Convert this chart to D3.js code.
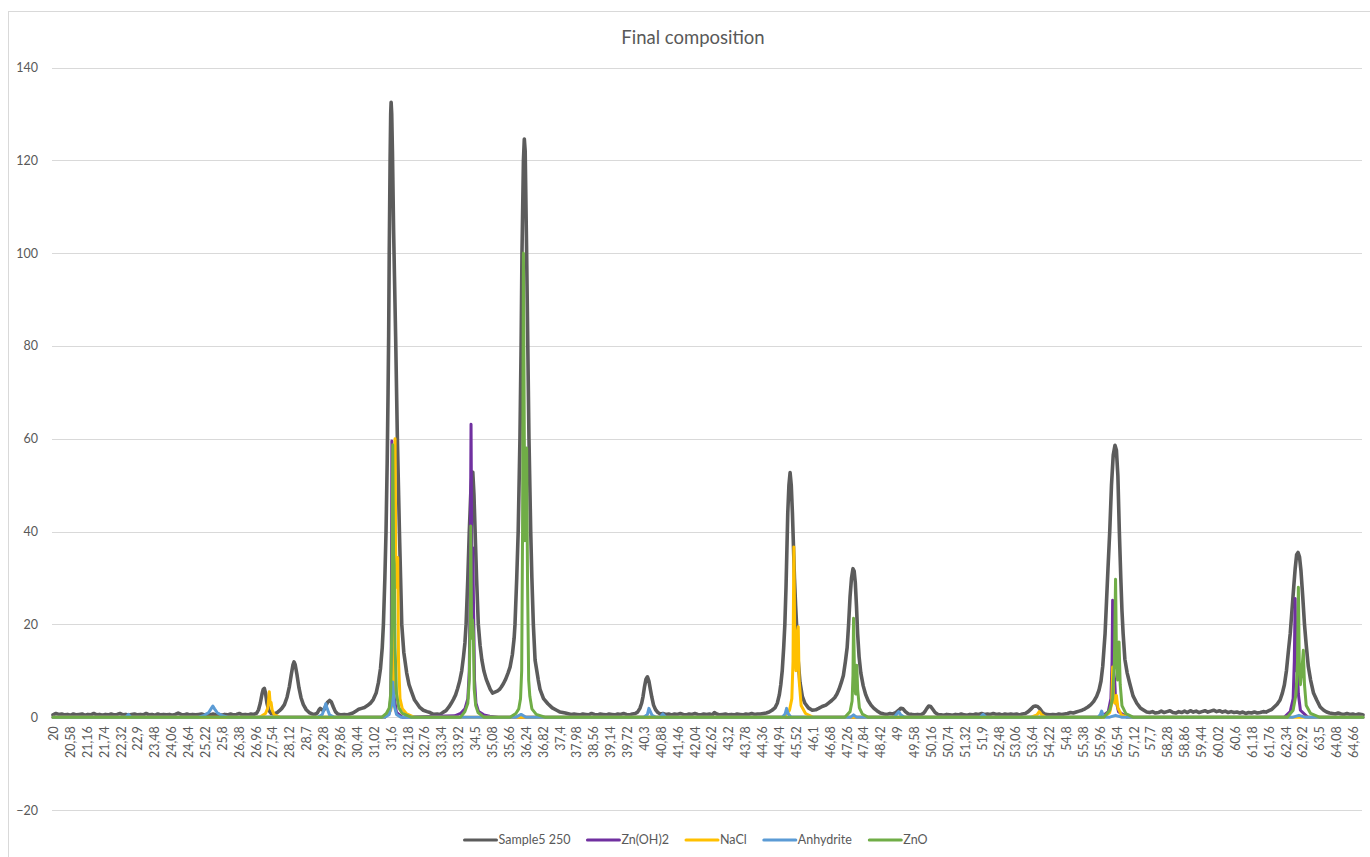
<!DOCTYPE html>
<html>
<head>
<meta charset="utf-8">
<script src="https://cdn.jsdelivr.net/npm/d3@7/dist/d3.min.js"></script>
<style>
  html, body { margin: 0; padding: 0; background: #ffffff; }
  svg { display: block; }
  text { font-family: Lato, "Open Sans", sans-serif; fill: #595959; }
</style>
</head>
<body>
<svg id="chart" width="1370" height="857"></svg>
<script>
// ---- chart content ----
const chartTitle = "Final composition";
const seriesNames = ["Sample5 250", "Zn(OH)2", "NaCl", "Anhydrite", "ZnO"];
const seriesColors = ["#5c5c5c", "#7030a0", "#ffc000", "#5b9bd5", "#70ad47"];
const yTickValues = [-20, 0, 20, 40, 60, 80, 100, 120, 140];
const xTickLabels = [
  "20", "20,58", "21,16", "21,74", "22,32", "22,9", "23,48", "24,06", "24,64", "25,22",
  "25,8", "26,38", "26,96", "27,54", "28,12", "28,7", "29,28", "29,86", "30,44", "31,02",
  "31,6", "32,18", "32,76", "33,34", "33,92", "34,5", "35,08", "35,66", "36,24", "36,82",
  "37,4", "37,98", "38,56", "39,14", "39,72", "40,3", "40,88", "41,46", "42,04", "42,62",
  "43,2", "43,78", "44,36", "44,94", "45,52", "46,1", "46,68", "47,26", "47,84", "48,42",
  "49", "49,58", "50,16", "50,74", "51,32", "51,9", "52,48", "53,06", "53,64", "54,22",
  "54,8", "55,38", "55,96", "56,54", "57,12", "57,7", "58,28", "58,86", "59,44", "60,02",
  "60,6", "61,18", "61,76", "62,34", "62,92", "63,5", "64,08", "64,66"
];

// measured pattern, [2theta, intensity]
const sample5 = [
  [20.0,0.5],[20.1,0.8],[20.2,0.6],[20.3,0.7],[20.4,0.5],[20.5,0.6],[20.6,0.4],[20.7,0.7],[20.8,0.5],[20.9,0.6],
  [21.0,0.7],[21.1,0.4],[21.2,0.6],[21.3,0.5],[21.4,0.8],[21.5,0.5],[21.6,0.6],[21.7,0.4],[21.8,0.6],[21.9,0.5],
  [22.0,0.7],[22.1,0.5],[22.2,0.6],[22.3,0.8],[22.4,0.5],[22.5,0.6],[22.6,0.4],[22.7,0.6],[22.8,0.7],[22.9,0.5],
  [23.0,0.6],[23.1,0.5],[23.2,0.8],[23.3,0.5],[23.4,0.6],[23.5,0.4],[23.6,0.7],[23.7,0.5],[23.8,0.6],[23.9,0.5],
  [24.0,0.6],[24.1,0.4],[24.2,0.6],[24.3,0.9],[24.4,0.6],[24.5,0.5],[24.6,0.7],[24.7,0.5],[24.8,0.6],[24.9,0.5],
  [25.0,0.6],[25.1,0.7],[25.2,0.5],[25.3,0.6],[25.4,0.5],[25.5,0.7],[25.6,0.5],[25.7,0.6],[25.8,0.4],[25.9,0.6],
  [26.0,0.5],[26.1,0.7],[26.2,0.5],[26.3,0.6],[26.4,0.8],[26.5,0.5],[26.6,0.6],[26.7,0.5],[26.8,0.7],[26.9,0.6],
  [27.0,0.9],[27.06,1.6],[27.12,3.0],[27.18,5.0],[27.22,6.0],[27.26,6.2],[27.3,5.2],[27.35,3.0],[27.42,1.4],[27.5,0.8],
  [27.6,0.7],[27.7,1.0],[27.78,1.4],[27.86,1.9],[27.95,2.7],[28.04,4.3],[28.12,6.6],[28.18,9.0],[28.24,11.2],[28.28,11.9],
  [28.32,11.3],[28.38,9.2],[28.45,6.3],[28.52,4.2],[28.6,2.7],[28.7,1.6],[28.8,1.0],[28.9,0.7],[29.0,0.6],
  [29.08,0.9],[29.13,1.5],[29.18,1.9],[29.24,1.6],[29.3,1.5],[29.36,2.3],[29.43,3.2],[29.5,3.6],[29.56,3.3],[29.63,2.2],
  [29.7,1.2],[29.78,0.7],[29.9,0.5],[30.0,0.6],[30.1,0.5],[30.2,0.7],[30.3,0.9],
  [30.4,1.3],[30.5,1.7],[30.6,1.9],[30.7,2.1],[30.8,2.5],[30.9,3.0],[31.0,3.8],[31.1,5.2],[31.18,7.5],[31.25,10.5],
  [31.31,15],[31.35,20],[31.4,30],[31.44,40],[31.48,55],[31.51,70],[31.53,82],[31.55,100],[31.58,120],[31.6,130],
  [31.615,132.5],[31.635,130],[31.66,122],[31.7,105],[31.73,95],[31.77,82],[31.83,60],[31.9,40],[31.94,30],[31.98,20],
  [32.05,14],[32.15,9.5],[32.23,7],[32.32,5.4],[32.42,3.7],[32.5,3.0],[32.6,2.1],[32.72,1.5],[32.85,1.2],[32.95,1.0],
  [33.07,0.6],[33.2,0.7],[33.3,0.6],[33.41,1.1],[33.5,1.4],[33.6,2.2],[33.68,3.0],[33.76,3.9],[33.83,4.8],[33.9,6.2],
  [33.97,7.8],[34.04,10],[34.1,13],[34.15,16],[34.19,20],[34.25,30],[34.3,40],[34.35,48],[34.39,52],[34.42,52.8],
  [34.46,48],[34.5,40],[34.55,30],[34.61,20],[34.67,15.5],[34.73,12.4],[34.8,10],[34.88,8.2],[34.95,7.1],[35.02,6],
  [35.1,5.2],[35.18,5.4],[35.26,5.6],[35.34,6.0],[35.4,6.5],[35.47,7.2],[35.55,8.2],[35.63,9.5],[35.7,10.8],[35.78,13.5],
  [35.84,17],[35.87,20],[35.93,30],[35.98,40],[36.04,60],[36.08,80],[36.11,100],[36.16,120],[36.19,124.6],[36.22,122],
  [36.27,100],[36.31,80],[36.35,60],[36.41,40],[36.45,30],[36.5,20],[36.56,12.3],[36.67,8],[36.73,6],[36.85,4],
  [37.0,2.9],[37.15,2.0],[37.3,1.5],[37.42,1.1],[37.6,0.9],[37.8,0.6],[37.9,0.7],[38.0,0.6],
  [38.1,0.5],[38.2,0.7],[38.3,0.6],[38.4,0.5],[38.5,0.8],[38.6,0.6],[38.7,0.5],[38.8,0.7],[38.9,0.6],[39.0,0.5],
  [39.1,0.7],[39.2,0.6],[39.3,0.5],[39.4,0.7],[39.5,0.6],[39.6,0.8],[39.7,0.6],[39.8,0.5],[39.9,0.7],[40.0,0.8],
  [40.08,1.1],[40.16,1.9],[40.22,3.0],[40.27,4.5],[40.32,6.6],[40.37,8.2],[40.42,8.7],[40.47,7.8],[40.52,6.0],[40.57,4.3],
  [40.63,2.6],[40.7,1.6],[40.78,1.0],[40.86,0.7],
  [40.95,0.8],[41.05,0.6],[41.15,0.7],[41.25,0.5],[41.35,0.7],[41.45,0.6],[41.55,0.8],[41.65,0.6],[41.75,0.5],[41.85,0.7],
  [41.95,0.6],[42.05,0.8],[42.15,0.6],[42.25,0.5],[42.35,0.7],[42.45,0.6],[42.55,0.7],[42.65,0.5],[42.72,1.0],[42.8,0.7],
  [42.9,0.5],[43.0,0.6],[43.1,0.7],[43.2,0.5],[43.3,0.6],[43.4,0.5],[43.5,0.7],[43.6,0.6],[43.7,0.5],[43.8,0.7],
  [43.9,0.6],[44.0,0.8],[44.1,0.6],[44.2,0.7],[44.3,0.7],[44.4,0.8],[44.5,0.9],[44.6,1.1],[44.7,1.5],[44.8,2.0],
  [44.88,3.0],[44.95,4.8],[45.0,7.0],[45.05,10],[45.1,15],[45.14,20],[45.18,28],[45.21,36],[45.24,44],[45.28,50],
  [45.32,52.7],[45.36,50],[45.4,44],[45.43,38],[45.47,30],[45.51,24],[45.55,19],[45.6,12],[45.66,7.5],[45.74,4.5],
  [45.83,3.0],[45.95,2.0],[46.08,1.5],[46.2,1.6],[46.3,1.9],[46.42,2.3],[46.55,2.6],[46.65,3.1],[46.75,3.6],[46.85,4.2],
  [46.93,5.0],[47.0,6.0],[47.08,7.5],[47.15,9.0],[47.22,12],[47.28,15],[47.33,20],[47.38,26],[47.43,30],[47.48,32],
  [47.52,31.5],[47.56,29],[47.6,24],[47.64,18],[47.69,13],[47.75,9.5],[47.83,6.8],[47.92,4.8],[48.0,3.6],[48.1,2.6],
  [48.2,1.9],[48.3,1.4],[48.42,0.9],[48.55,0.7],[48.65,0.6],[48.75,0.8],[48.85,0.7],[48.95,1.0],
  [49.05,1.5],[49.12,1.9],[49.2,1.8],[49.28,1.2],[49.38,0.7],[49.5,0.6],[49.6,0.5],[49.7,0.6],[49.8,0.5],[49.9,0.8],
  [49.95,1.2],[50.02,1.9],[50.08,2.4],[50.15,2.3],[50.22,1.7],[50.3,1.0],[50.4,0.6],[50.5,0.5],[50.6,0.4],[50.7,0.6],
  [50.8,0.5],[50.9,0.4],[51.0,0.6],[51.1,0.5],[51.2,0.7],[51.3,0.5],[51.4,0.4],[51.5,0.6],[51.6,0.5],[51.7,0.7],
  [51.8,0.6],[51.9,0.8],[52.0,0.6],[52.1,0.7],[52.2,0.6],[52.3,0.8],[52.4,0.6],[52.5,0.7],[52.6,0.5],[52.7,0.7],
  [52.8,0.6],[52.9,0.7],[53.0,0.6],[53.1,0.7],[53.2,0.5],[53.3,0.7],[53.4,0.8],[53.5,1.2],
  [53.6,1.8],[53.68,2.3],[53.75,2.4],[53.82,2.3],[53.9,1.8],[53.98,1.1],[54.06,0.7],[54.15,0.6],[54.25,0.5],[54.35,0.6],
  [54.45,0.5],[54.55,0.7],[54.65,0.6],[54.75,0.7],[54.85,0.8],[54.95,1.0],[55.05,0.9],[55.15,1.1],[55.25,1.3],[55.35,1.5],
  [55.45,1.8],[55.55,2.2],[55.65,2.7],[55.75,3.4],[55.85,4.5],[55.93,5.8],[56.0,7.8],[56.06,11],[56.1,14.5],[56.14,18],
  [56.19,25],[56.24,32],[56.3,40],[56.36,50],[56.42,56.5],[56.48,58.6],[56.53,57.5],[56.58,52],[56.63,40],[56.68,30],
  [56.72,23],[56.76,18],[56.82,12.5],[56.9,9.5],[56.99,7.2],[57.1,4.6],[57.23,3.0],[57.35,2.0],[57.47,1.5],[57.57,1.1],
  [57.67,1.0],[57.77,1.2],[57.87,0.9],[57.97,1.0],[58.07,1.3],[58.17,1.0],[58.27,1.2],[58.37,1.4],[58.47,1.0],[58.57,0.9],
  [58.67,1.2],[58.77,1.0],[58.87,1.3],[58.97,1.0],[59.07,1.4],[59.17,1.1],[59.27,1.3],[59.37,1.0],[59.47,1.2],[59.57,1.4],
  [59.67,1.1],[59.77,1.3],[59.87,1.5],[59.97,1.2],[60.07,1.4],[60.17,1.1],[60.27,1.3],[60.37,1.0],[60.47,1.2],[60.57,1.0],
  [60.67,1.1],[60.77,0.9],[60.87,1.1],[60.97,0.8],[61.07,1.0],[61.17,0.9],[61.27,1.1],[61.37,0.9],[61.47,1.0],[61.57,1.2],
  [61.67,1.1],[61.77,1.4],[61.87,1.7],[61.95,2.2],
  [62.05,2.8],[62.15,3.7],[62.23,5.2],[62.3,7],[62.37,10],[62.44,14.4],[62.5,18],[62.56,23],[62.62,28],[62.67,32],
  [62.72,35],[62.77,35.5],[62.82,34.5],[62.87,31.5],[62.93,26],[62.99,20],[63.05,15.5],[63.12,11],[63.2,8],[63.3,5.2],
  [63.41,3.7],[63.53,2.2],[63.65,1.5],[63.75,1.1],[63.85,0.9],[63.95,0.8],[64.05,0.7],[64.15,0.9],[64.25,0.7],[64.35,0.6],
  [64.45,0.8],[64.55,0.6],[64.65,0.7],[64.75,0.5],[64.85,0.7],[64.95,0.6],[65.0,0.5]
];

// reference patterns, [2theta, intensity]
const znOH2 = [
  [20,0],[31.4,0],[31.55,1],[31.6,4],[31.62,15],[31.64,59.5],[31.66,20],[31.7,5],[31.8,1],[32,0],
  [33.8,0.3],[34.0,0.8],[34.15,1.8],[34.25,4],[34.3,10],[34.33,30],[34.36,63.1],[34.39,30],[34.42,36.5],[34.45,22],
  [34.48,8],[34.53,3],[34.62,1.2],[34.8,0.5],[35.0,0.2],[35.3,0],
  [56.0,0],[56.25,1.2],[56.34,4],[56.38,12],[56.4,25.2],[56.43,10],[56.47,8],[56.5,4],[56.6,1.2],[56.9,0],
  [62.3,0],[62.5,1.2],[62.6,4],[62.64,12],[62.67,25.6],[62.7,10],[62.74,12],[62.78,5],[62.85,1.5],[63.1,0],[65,0]
];
const naCl = [
  [20,0],[27.1,0],[27.3,0.8],[27.38,2],[27.41,4],[27.43,5.5],[27.46,3],[27.49,3.2],[27.53,1.5],[27.6,0.5],[27.8,0],
  [31.4,0],[31.6,1.5],[31.68,4],[31.72,15],[31.75,60],[31.78,30],[31.81,28],[31.84,34.4],[31.87,12],[31.92,4],
  [32.0,1.8],[32.15,0.7],[32.4,0],
  [45.1,0],[45.3,1.5],[45.38,4],[45.42,12],[45.45,36.7],[45.48,16],[45.52,10],[45.56,18],[45.6,19.5],[45.63,8],
  [45.7,2.5],[45.85,0.8],[46.1,0],
  [53.6,0],[53.8,0.5],[53.88,1.2],[53.95,0.6],[54.1,0],
  [56.1,0],[56.3,1],[56.37,3],[56.4,10.8],[56.43,4],[56.48,3],[56.53,4.7],[56.58,2],[56.7,0.5],[56.9,0],[65,0]
];
const anhydrite = [
  [20,0],[22.5,0],[22.59,0.6],[22.68,0],
  [25.0,0],[25.2,0.4],[25.35,1.0],[25.45,2.0],[25.49,2.4],[25.55,1.8],[25.65,0.9],[25.8,0.4],[26.0,0],
  [29.1,0],[29.25,0.6],[29.32,1.8],[29.37,2.9],[29.42,1.8],[29.5,0.5],[29.65,0],
  [31.4,0],[31.55,0.6],[31.62,2.5],[31.67,7.6],[31.72,2.5],[31.8,0.6],[31.95,0],
  [35.9,0],[36.08,0.6],[36.25,0],
  [40.3,0],[40.42,0.6],[40.47,1.9],[40.52,1.2],[40.58,0.4],[40.7,0],[40.85,0],[40.95,0.7],[41.05,0],
  [45.05,0],[45.15,0.7],[45.2,1.9],[45.25,0.8],[45.35,0],
  [47.4,0],[47.5,0.5],[47.6,0],
  [48.9,0],[49.0,0.8],[49.05,1.2],[49.12,0.5],[49.25,0],
  [51.85,0],[51.95,0.6],[52.05,0],
  [55.9,0],[55.98,0.6],[56.02,1.3],[56.07,0.5],[56.15,0],
  [56.3,0],[56.5,0.4],[56.7,0],
  [62.6,0],[62.8,0.4],[63.0,0],[65,0]
];
const znO = [
  [20,0],[31.3,0],[31.45,0.8],[31.55,2],[31.6,5],[31.64,20],[31.67,58.7],[31.7,35],[31.72,33],[31.75,15],
  [31.8,5],[31.88,2],[32.0,0.8],[32.3,0],
  [34.0,0],[34.15,1.2],[34.25,3],[34.3,8],[34.33,20],[34.35,41.2],[34.38,17],[34.41,21],[34.44,18],[34.47,6],
  [34.52,2.5],[34.6,1.0],[34.8,0],
  [35.7,0],[35.9,0.8],[36.0,1.8],[36.06,4],[36.1,10],[36.13,40],[36.16,100],[36.19,60],[36.21,38],[36.24,50],
  [36.27,58],[36.3,30],[36.34,8],[36.38,4.5],[36.45,1.8],[36.6,0.6],[36.9,0],
  [47.2,0],[47.38,1.2],[47.45,3.5],[47.48,9],[47.5,21.3],[47.53,10],[47.57,5],[47.61,11.2],[47.64,6],[47.7,2],
  [47.8,0.7],[48.0,0],
  [56.1,0],[56.3,1.5],[56.4,4],[56.46,12],[56.5,29.7],[56.53,14],[56.57,8],[56.62,16.2],[56.66,7],[56.72,2.5],
  [56.85,0.8],[57.1,0],
  [62.4,0],[62.6,1.5],[62.7,5],[62.75,12],[62.78,28],[62.81,12],[62.85,7],[62.9,10],[62.95,14.4],[62.99,7],
  [63.05,2.5],[63.2,0.8],[63.5,0],[65,0]
];

const seriesData = [sample5, znOH2, naCl, anhydrite, znO];

// ---- layout ----
const svg = d3.select("#chart");
const plot = { left: 52, right: 1362, top: 67.5, bottom: 810 };
const labelFont = "Lato, 'Open Sans', sans-serif";

const x = d3.scaleLinear().domain([20, 65]).range([53, 1363]);
const y = d3.scaleLinear().domain([-20, 140]).range([plot.bottom, plot.top]);

// outer chart frame
svg.append("rect")
  .attr("x", 8.5).attr("y", 11.5)
  .attr("width", 1372).attr("height", 860)
  .attr("fill", "#ffffff")
  .attr("stroke", "#d9d9d9").attr("stroke-width", 1);

// title
svg.append("text")
  .attr("x", 693).attr("y", 44)
  .attr("text-anchor", "middle")
  .style("font-size", "18.5px")
  .text(chartTitle);

// horizontal gridlines + value axis labels
const yAxis = d3.axisLeft(y).tickValues(yTickValues).tickSize(0).tickPadding(14);
const yAxisG = svg.append("g").attr("transform", `translate(${plot.left},0)`).call(yAxis);
yAxisG.select(".domain").remove();
yAxisG.selectAll("text").style("font-size", "12.5px").style("fill", "#595959").style("font-family", labelFont);

svg.append("g").selectAll("line")
  .data(yTickValues)
  .join("line")
  .attr("x1", plot.left).attr("x2", plot.right)
  .attr("y1", d => Math.round(y(d)) + 0.5).attr("y2", d => Math.round(y(d)) + 0.5)
  .attr("stroke", "#d9d9d9").attr("stroke-width", 1);

// category axis labels (rotated)
const xTickValues = xTickLabels.map(s => +s.replace(",", "."));
const xAxis = d3.axisBottom(x).tickValues(xTickValues).tickSize(0).tickPadding(0)
  .tickFormat((d, i) => xTickLabels[i]);
const xAxisG = svg.append("g").attr("transform", `translate(0,${y(0)})`).call(xAxis);
xAxisG.select(".domain").remove();
xAxisG.selectAll("text")
  .attr("transform", "rotate(-90)")
  .attr("text-anchor", "end")
  .attr("x", -9).attr("y", 0).attr("dy", "0.36em")
  .style("font-size", "12.5px").style("fill", "#595959").style("font-family", labelFont);

// series lines, first series at the back
const line = d3.line().x(d => x(d[0])).y(d => y(d[1]));
svg.append("g").selectAll("path")
  .data(seriesData)
  .join("path")
  .attr("d", line)
  .attr("fill", "none")
  .attr("stroke", (d, i) => seriesColors[i])
  .attr("stroke-width", (d, i) => i === 0 ? 3.6 : 3)
  .attr("stroke-linejoin", "round")
  .attr("stroke-linecap", "round");

// legend
const legend = svg.append("g").attr("transform", "translate(0,840)");
const items = legend.selectAll("g").data(seriesNames).join("g");
items.append("line")
  .attr("x1", 0).attr("x2", 32).attr("y1", 0).attr("y2", 0)
  .attr("stroke", (d, i) => seriesColors[i]).attr("stroke-width", 3)
  .attr("stroke-linecap", "round");
items.append("text")
  .attr("x", 34).attr("y", 0).attr("dy", "0.35em")
  .style("font-size", "12.5px")
  .text(d => d);
let widths = [];
items.each(function () { widths.push(this.getBBox().width); });
const gap = 17;
const total = d3.sum(widths) + gap * (widths.length - 1);
let cursor = 696 - total / 2;
items.attr("transform", (d, i) => {
  const t = `translate(${cursor},0)`;
  cursor += widths[i] + gap;
  return t;
});
</script>
</body>
</html>
